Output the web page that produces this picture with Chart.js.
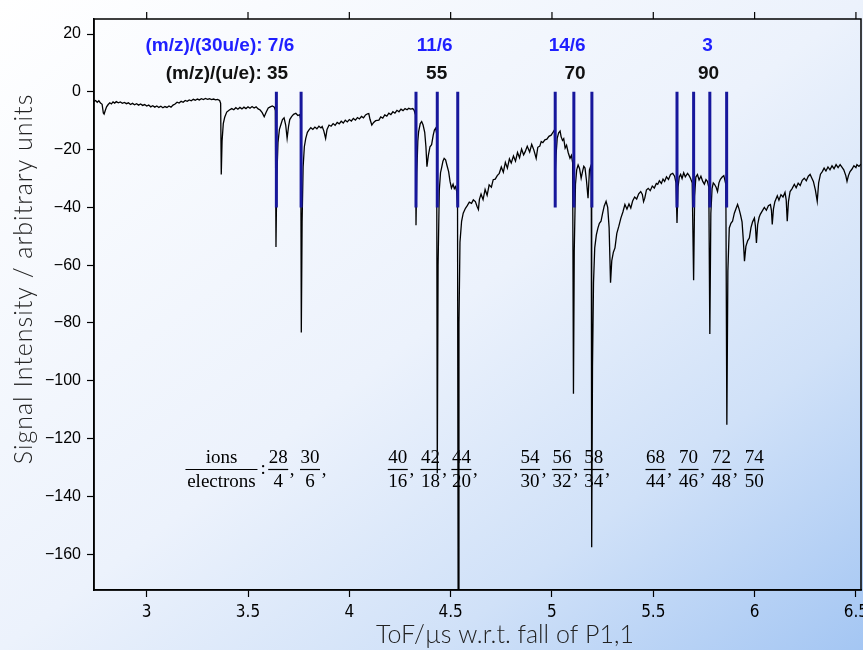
<!DOCTYPE html>
<html>
<head>
<meta charset="utf-8">
<script src="https://cdn.jsdelivr.net/npm/chart.js@4"></script>
<style>
  html, body { margin: 0; padding: 0; }
  body {
    width: 863px; height: 650px; overflow: hidden;
    background: linear-gradient(to bottom right, #ffffff 0%, #ecf2fc 50%, #d0e1f8 75%, #a4c6f3 100%);
  }
  canvas { display: block; }
</style>
</head>
<body>
<canvas id="tofChart" width="863" height="650"></canvas>
<script>
// time of flight (µs) and signal
const tof = [
  2.740, 2.748, 2.756, 2.764, 2.772, 2.780, 2.786, 2.790, 2.796, 2.802, 2.810, 2.818, 2.826, 2.834, 2.842, 2.850,
  2.860, 2.870, 2.880, 2.890, 2.900, 2.910, 2.920, 2.930, 2.940, 2.950, 2.960, 2.970, 2.980, 2.990, 3.000, 3.010,
  3.020, 3.030, 3.040, 3.050, 3.060, 3.070, 3.080, 3.090, 3.100, 3.110, 3.120, 3.130, 3.140, 3.150, 3.160, 3.170,
  3.180, 3.190, 3.200, 3.210, 3.220, 3.230, 3.240, 3.250, 3.260, 3.270, 3.280, 3.290, 3.300, 3.310, 3.320, 3.330,
  3.340, 3.350, 3.360, 3.365, 3.368, 3.372, 3.378, 3.385, 3.395, 3.408, 3.420, 3.430, 3.440, 3.450, 3.460, 3.470,
  3.480, 3.490, 3.500, 3.510, 3.520, 3.530, 3.540, 3.550, 3.560, 3.570, 3.580, 3.590, 3.600, 3.610, 3.620, 3.630,
  3.635, 3.638, 3.642, 3.648, 3.655, 3.662, 3.670, 3.678, 3.686, 3.693, 3.700, 3.706, 3.715, 3.725, 3.736, 3.746,
  3.755, 3.760, 3.763, 3.767, 3.772, 3.778, 3.785, 3.793, 3.801, 3.810, 3.820, 3.830, 3.840, 3.850, 3.860, 3.866,
  3.874, 3.883, 3.890, 3.900, 3.910, 3.920, 3.930, 3.940, 3.950, 3.960, 3.970, 3.980, 3.990, 4.000, 4.010, 4.020,
  4.030, 4.040, 4.050, 4.060, 4.070, 4.080, 4.090, 4.096, 4.102, 4.111, 4.120, 4.130, 4.146, 4.155, 4.165, 4.175,
  4.185, 4.195, 4.205, 4.215, 4.225, 4.235, 4.245, 4.255, 4.265, 4.275, 4.285, 4.293, 4.303, 4.313, 4.320, 4.326,
  4.329, 4.333, 4.338, 4.342, 4.350, 4.357, 4.364, 4.372, 4.378, 4.383, 4.390, 4.398, 4.406, 4.414, 4.420, 4.426,
  4.431, 4.434, 4.438, 4.444, 4.450, 4.455, 4.462, 4.468, 4.475, 4.482, 4.490, 4.497, 4.504, 4.512, 4.518, 4.524,
  4.530, 4.534, 4.537, 4.541, 4.546, 4.554, 4.562, 4.573, 4.582, 4.592, 4.603, 4.612, 4.622, 4.630, 4.637, 4.642,
  4.650, 4.660, 4.670, 4.680, 4.690, 4.701, 4.710, 4.720, 4.730, 4.740, 4.750, 4.760, 4.770, 4.780, 4.790, 4.799,
  4.810, 4.820, 4.830, 4.840, 4.850, 4.860, 4.868, 4.878, 4.890, 4.900, 4.910, 4.916, 4.922, 4.930, 4.940, 4.947,
  4.955, 4.965, 4.975, 4.985, 4.996, 5.005, 5.012, 5.016, 5.020, 5.026, 5.033, 5.040, 5.045, 5.052, 5.058, 5.065,
  5.072, 5.080, 5.089, 5.096, 5.102, 5.106, 5.110, 5.116, 5.122, 5.129, 5.136, 5.144, 5.151, 5.157, 5.163, 5.170,
  5.178, 5.185, 5.190, 5.194, 5.196, 5.200, 5.205, 5.211, 5.219, 5.227, 5.234, 5.242, 5.250, 5.258, 5.267, 5.275,
  5.282, 5.289, 5.295, 5.303, 5.311, 5.320, 5.330, 5.340, 5.350, 5.360, 5.370, 5.380, 5.389, 5.398, 5.408, 5.418,
  5.428, 5.438, 5.446, 5.452, 5.458, 5.466, 5.475, 5.485, 5.495, 5.505, 5.515, 5.522, 5.530, 5.540, 5.548, 5.556,
  5.565, 5.575, 5.585, 5.596, 5.605, 5.612, 5.617, 5.622, 5.628, 5.635, 5.642, 5.650, 5.658, 5.669, 5.677, 5.684,
  5.692, 5.699, 5.704, 5.710, 5.718, 5.726, 5.735, 5.744, 5.752, 5.760, 5.767, 5.774, 5.779, 5.784, 5.790, 5.796,
  5.802, 5.810, 5.817, 5.824, 5.831, 5.840, 5.848, 5.851, 5.858, 5.863, 5.868, 5.875, 5.883, 5.891, 5.900, 5.908,
  5.916, 5.923, 5.930, 5.938, 5.944, 5.950, 5.957, 5.966, 5.974, 5.982, 5.990, 5.999, 6.004, 6.009, 6.015, 6.022,
  6.028, 6.038, 6.048, 6.058, 6.068, 6.078, 6.083, 6.087, 6.093, 6.100, 6.112, 6.120, 6.130, 6.140, 6.150, 6.156,
  6.161, 6.167, 6.175, 6.185, 6.196, 6.205, 6.215, 6.225, 6.235, 6.245, 6.255, 6.265, 6.274, 6.282, 6.290, 6.300,
  6.309, 6.316, 6.325, 6.334, 6.343, 6.352, 6.362, 6.372, 6.382, 6.392, 6.402, 6.412, 6.422, 6.430, 6.440, 6.450,
  6.456, 6.463, 6.471, 6.480, 6.490, 6.500, 6.505, 6.515, 6.525
];
const signal = [
  -3.3, -3.0, -3.6, -3.1, -3.9, -4.3, -7.3, -7.7, -6.4, -5.2, -4.4, -3.8, -4.2, -3.5, -3.9, -3.4,
  -3.8, -3.5, -4.0, -3.7, -4.1, -3.8, -4.4, -4.0, -4.5, -4.1, -4.6, -4.2, -4.7, -4.4, -4.9, -4.6,
  -5.2, -4.8, -5.3, -4.9, -5.4, -5.0, -5.5, -5.1, -5.4, -4.9, -5.3, -4.6, -4.2, -3.6, -3.9, -3.3,
  -3.6, -3.0, -3.3, -2.8, -3.1, -2.6, -2.9, -2.5, -2.8, -2.4, -2.7, -2.3, -2.6, -2.4, -2.7, -2.5,
  -2.8, -2.6, -3.0, -4.0, -28.6, -17.0, -11.0, -8.8, -7.0, -6.3, -5.8, -6.2, -5.5, -6.0, -5.4, -5.9,
  -5.3, -5.8, -5.2, -5.7, -5.1, -5.6, -5.2, -5.9, -6.3, -7.2, -8.6, -7.0, -5.6, -5.2, -4.9, -5.3,
  -6.5, -53.7, -30.0, -17.5, -13.0, -11.4, -9.6, -9.0, -11.5, -16.1, -12.0, -9.6, -8.6, -7.8, -7.4, -8.2,
  -7.9, -9.5, -83.3, -45.0, -26.0, -19.0, -16.1, -14.0, -13.2, -12.4, -13.0, -12.2, -12.8, -11.9, -12.5, -12.0,
  -13.5, -16.1, -13.0, -11.5, -11.9, -11.0, -11.6, -10.6, -11.1, -10.2, -10.8, -9.8, -10.4, -9.6, -10.1, -9.2,
  -9.8, -8.9, -9.4, -8.5, -9.0, -8.0, -7.6, -7.5, -9.5, -11.5, -10.6, -10.0, -9.8, -8.7, -9.1, -8.0,
  -8.4, -7.4, -7.9, -6.9, -7.4, -6.4, -6.9, -6.0, -6.5, -5.8, -6.2, -5.7, -6.0, -5.8, -6.4, -8.0,
  -46.2, -28.0, -17.0, -13.8, -11.0, -10.3, -11.5, -14.0, -19.0, -25.9, -22.0, -19.0, -18.3, -15.0, -13.2, -12.6,
  -14.5, -132.0, -60.0, -34.0, -28.0, -26.4, -24.0, -23.0, -23.5, -25.5, -27.6, -31.0, -33.3, -32.0, -33.5, -32.8,
  -34.5, -40.0, -178.0, -80.0, -52.0, -44.8, -42.0, -40.3, -39.4, -38.2, -38.6, -37.4, -38.0, -39.6, -40.7, -37.2,
  -35.4, -37.3, -33.8, -35.8, -32.2, -33.0, -30.4, -30.2, -29.0, -28.2, -26.0, -27.8, -24.4, -26.4, -23.2, -24.6,
  -22.2, -24.0, -21.0, -22.8, -19.8, -21.8, -20.7, -18.8, -20.8, -18.2, -20.0, -21.5, -23.0, -19.2, -18.8, -17.2,
  -17.6, -16.6, -16.4, -15.4, -15.0, -14.0, -13.2, -28.0, -22.0, -16.0, -14.2, -13.6, -15.5, -16.8, -16.2, -19.5,
  -18.5, -21.0, -23.0, -22.0, -24.5, -104.5, -55.0, -32.0, -27.0, -25.3, -26.5, -29.9, -27.5, -25.8, -26.4, -30.5,
  -36.8, -27.0, -26.0, -30.0, -157.6, -95.0, -66.0, -54.0, -49.5, -47.1, -45.5, -44.8, -42.0, -39.5, -37.9, -40.0,
  -47.0, -66.1, -58.5, -55.5, -54.0, -49.0, -46.5, -43.7, -41.6, -39.0, -40.6, -38.8, -40.2, -37.8, -36.4, -37.1,
  -35.3, -34.5, -35.5, -38.0, -36.8, -34.0, -33.4, -34.2, -32.6, -33.3, -31.7, -32.0, -30.8, -31.7, -30.2, -31.0,
  -29.4, -30.3, -28.6, -28.2, -29.2, -31.5, -45.4, -33.0, -29.5, -28.6, -30.0, -28.0, -29.4, -28.2, -29.0, -30.0,
  -31.5, -65.2, -36.0, -29.5, -28.6, -30.5, -29.2, -31.0, -32.0, -30.4, -31.0, -33.0, -83.8, -42.0, -33.5, -31.5,
  -32.0, -33.0, -34.5, -31.5, -30.3, -29.5, -29.0, -29.9, -32.0, -115.2, -62.0, -47.1, -45.5, -44.8, -42.0, -40.5,
  -39.0, -40.5, -42.4, -45.0, -51.0, -58.6, -53.5, -51.5, -50.6, -47.0, -45.0, -43.7, -46.5, -52.3, -46.0, -43.5,
  -42.4, -41.2, -40.0, -41.0, -39.4, -39.0, -41.0, -45.9, -40.5, -38.0, -36.0, -37.5, -35.6, -36.4, -34.8, -37.5,
  -44.8, -38.0, -34.5, -33.5, -32.0, -33.2, -31.6, -32.4, -30.6, -29.9, -30.8, -29.2, -28.6, -29.8, -31.0, -34.0,
  -37.9, -31.5, -28.5, -27.6, -26.4, -27.4, -26.0, -27.0, -25.6, -26.6, -25.2, -26.2, -25.2, -26.0, -27.0, -29.0,
  -31.0, -29.0, -27.6, -26.8, -25.6, -26.2, -25.2, -25.8, -25.0
];

// blue markers: expected flight times, drawn from 0 down to -40
const markerTof = [3.640, 3.762, 4.329, 4.434, 4.535, 5.016, 5.108, 5.197, 5.617, 5.699, 5.779, 5.862];
const markerTop = 0;
const markerBottom = -40;

// labels over the marker groups
const ratioLabels = ['(m/z)/(30u/e): 7/6', '11/6', '14/6', '3'];
const ratioTof = [3.361, 4.421, 5.075, 5.768];
const massLabels = ['(m/z)/(u/e): 35', '55', '70', '90'];
const massTof = [3.396, 4.431, 5.114, 5.773];

// ions / electrons fractions under the trace
const fracIons = ['28', '30', '40', '42', '44', '54', '56', '58', '68', '70', '72', '74'];
const fracElectrons = ['4', '6', '16', '18', '20', '30', '32', '34', '44', '46', '48', '50'];
const fracTof = [3.649, 3.806, 4.239, 4.401, 4.553, 4.892, 5.049, 5.206, 5.511, 5.674, 5.836, 5.998];

const trace = tof.map((t, i) => ({ x: t, y: signal[i] }));
const markers = [];
markerTof.forEach(t => {
  markers.push({ x: t, y: markerTop }, { x: t, y: markerBottom }, { x: t, y: null });
});

const serif = '"Liberation Serif", "Times New Roman", serif';
const sans = '"Liberation Sans", Arial, sans-serif';
const titleFont = '300 25px Lato, "Open Sans", sans-serif';

// frame, top ticks, titles and text annotations
const decorations = {
  id: 'decorations',
  beforeDatasetsDraw(chart) {
    const { ctx, scales: { x, y } } = chart;
    ctx.save();
    ctx.fillStyle = '#000';
    ctx.strokeStyle = '#000';
    ctx.lineWidth = 1.2;
    ctx.font = '19px ' + serif;
    ctx.textAlign = 'center';
    ctx.textBaseline = 'middle';
    const barY = y.getPixelForValue(-130.7);

    // "ions / electrons :"
    const lx = x.getPixelForValue(3.369);
    ctx.fillText('ions', lx, barY - 11);
    ctx.fillText('electrons', lx, barY + 13);
    ctx.beginPath(); ctx.moveTo(lx - 36, barY); ctx.lineTo(lx + 36, barY); ctx.stroke();
    ctx.fillText(':', x.getPixelForValue(3.575), barY);

    fracTof.forEach((t, i) => {
      const px = x.getPixelForValue(t);
      ctx.fillText(fracIons[i], px, barY - 11);
      ctx.fillText(fracElectrons[i], px, barY + 13);
      ctx.beginPath(); ctx.moveTo(px - 10, barY); ctx.lineTo(px + 10, barY); ctx.stroke();
      if (i < fracTof.length - 1) ctx.fillText(',', px + 14, barY + 1);
    });

    ctx.font = 'bold 19px ' + sans;
    ctx.fillStyle = '#1f1fff';
    ratioLabels.forEach((s, i) => ctx.fillText(s, x.getPixelForValue(ratioTof[i]), y.getPixelForValue(15.9)));
    ctx.fillStyle = '#111';
    massLabels.forEach((s, i) => ctx.fillText(s, x.getPixelForValue(massTof[i]), y.getPixelForValue(6.2)));
    ctx.restore();
  },
  afterDraw(chart) {
    const { ctx, chartArea: a, scales: { x } } = chart;
    ctx.save();
    ctx.strokeStyle = '#000';
    ctx.lineWidth = 1.5;
    ctx.strokeRect(a.left, a.top, a.right - a.left, a.bottom - a.top);
    ctx.lineWidth = 1.2;
    x.ticks.forEach(t => {
      const px = x.getPixelForValue(t.value);
      ctx.beginPath(); ctx.moveTo(px, a.top); ctx.lineTo(px, a.top - 7); ctx.stroke();
    });

    ctx.fillStyle = '#222';
    ctx.font = titleFont;
    ctx.textAlign = 'center';
    ctx.textBaseline = 'middle';
    ctx.fillText('ToF/\u00b5s w.r.t. fall of P1,1', 505, 635);
    ctx.translate(24, 279);
    ctx.rotate(-Math.PI / 2);
    ctx.letterSpacing = '1px';
    ctx.fillText('Signal Intensity / arbitrary units', 0, 0);
    ctx.restore();
  }
};

const ctx = document.getElementById('tofChart').getContext('2d');
const chart = new Chart(ctx, {
  type: 'scatter',
  data: {
    datasets: [
      {
        label: 'markers',
        data: markers,
        showLine: true,
        spanGaps: false,
        borderColor: '#17179c',
        borderWidth: 3,
        pointRadius: 0
      },
      {
        label: 'signal',
        data: trace,
        showLine: true,
        borderColor: '#000',
        borderWidth: 1.3,
        pointRadius: 0,
        tension: 0
      }
    ]
  },
  options: {
    responsive: false,
    animation: false,
    layout: { padding: { top: 19, right: 2, left: 0, bottom: 0 } },
    plugins: {
      legend: { display: false },
      tooltip: { enabled: false }
    },
    scales: {
      x: {
        type: 'linear',
        min: 2.74,
        max: 6.525,
        ticks: {
          stepSize: 0.5,
          includeBounds: false,
          autoSkip: false,
          maxRotation: 0,
          padding: 5,
          color: '#000',
          font: { family: '"DejaVu Sans Condensed", "Liberation Sans Narrow", sans-serif', size: 17 },
          callback: v => String(v)
        },
        grid: { drawOnChartArea: false, tickLength: 7, tickColor: '#000', tickWidth: 1.2 },
        border: { color: '#000', width: 1.5 },
        afterFit(s) { s.height = 60; s.paddingLeft = 0; s.paddingRight = 0; }
      },
      y: {
        type: 'linear',
        min: -172.4,
        max: 25.2,
        ticks: {
          stepSize: 20,
          includeBounds: false,
          padding: 6,
          color: '#000',
          font: { family: sans, size: 16 },
          callback: v => String(v).replace('-', '\u2212')
        },
        grid: { drawOnChartArea: false, tickLength: 7, tickColor: '#000', tickWidth: 1.2 },
        border: { color: '#000', width: 1.5 },
        afterFit(s) { s.width = 94; s.paddingTop = 0; s.paddingBottom = 0; }
      }
    }
  },
  plugins: [decorations]
});
</script>
</body>
</html>
